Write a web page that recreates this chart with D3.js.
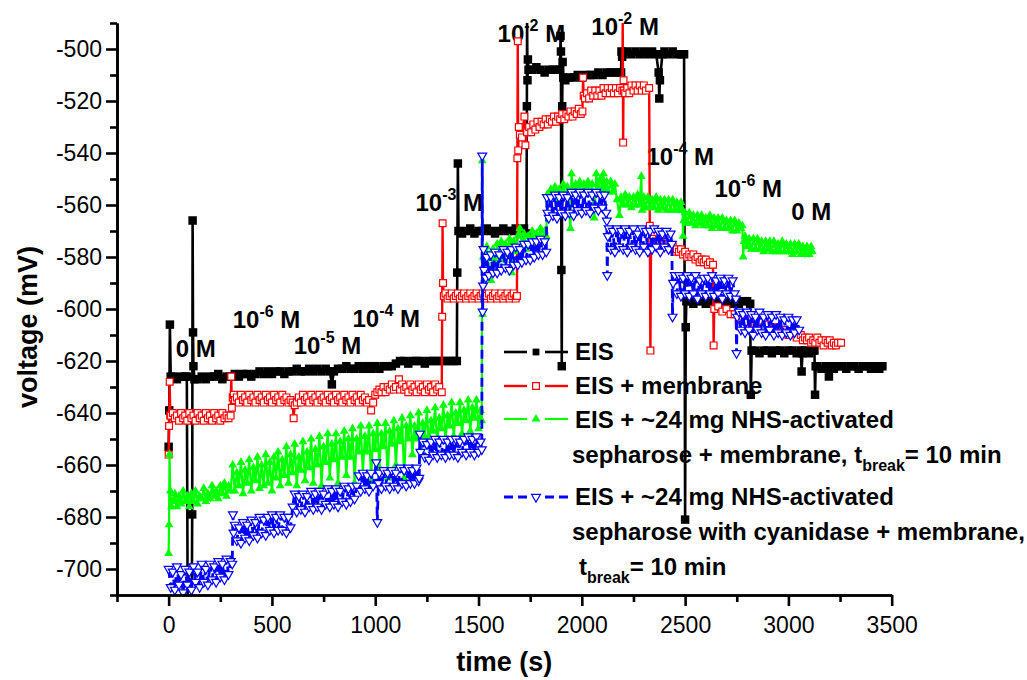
<!DOCTYPE html>
<html>
<head>
<meta charset="utf-8">
<script src="https://cdn.jsdelivr.net/npm/d3@7"></script>
<style>
body { margin: 0; background: #fff; }
text { white-space: pre; }
</style>
</head>
<body>
<div class="chart"></div>
<script>
// EIS (black, filled squares)
var eisData = [[0,-653],[3,-639],[6,-606],[10,-626],[20,-626],[40,-627],[60,-626],[80,-626],[88,-626],[92,-714],[112,-714],[114,-679],[116,-566],[118,-609],[120,-622],[125,-627],[140,-627],[160,-626],[180,-627],[200,-626],[220,-626],[240,-625],[260,-627],[280,-626],[300,-626],[320,-625],[340,-626],[360,-625],[380,-625],[400,-626],[420,-625],[440,-624],[460,-625],[480,-624],[500,-625],[520,-624],[540,-624],[560,-625],[580,-624],[600,-624],[620,-623],[640,-624],[660,-624],[680,-623],[700,-624],[720,-623],[740,-624],[760,-623],[780,-624],[790,-629],[800,-624],[820,-623],[840,-623],[860,-622],[880,-623],[900,-623],[920,-622],[940,-623],[960,-622],[980,-623],[1000,-622],[1020,-623],[1040,-622],[1060,-622],[1080,-622],[1100,-621],[1120,-620],[1140,-620],[1160,-621],[1180,-620],[1200,-620],[1220,-620],[1240,-621],[1260,-620],[1280,-620],[1300,-620],[1320,-620],[1340,-620],[1360,-620],[1380,-620],[1395,-620],[1397,-586],[1400,-544],[1403,-570],[1420,-571],[1440,-570],[1460,-569],[1480,-571],[1500,-570],[1520,-570],[1540,-569],[1560,-570],[1580,-571],[1600,-570],[1620,-569],[1640,-570],[1660,-570],[1680,-569],[1700,-570],[1720,-569],[1732,-571],[1734,-522],[1735,-488],[1737,-512],[1739,-504],[1742,-508],[1760,-508],[1780,-507],[1800,-508],[1820,-509],[1840,-508],[1860,-508],[1880,-508],[1895,-508],[1897,-495],[1899,-501],[1901,-585],[1903,-622],[1905,-522],[1907,-505],[1910,-511],[1920,-512],[1940,-511],[1960,-511],[1980,-510],[2000,-511],[2020,-510],[2040,-510],[2060,-510],[2080,-509],[2100,-510],[2120,-509],[2140,-509],[2160,-509],[2180,-509],[2190,-509],[2192,-501],[2195,-503],[2200,-502],[2220,-501],[2240,-502],[2260,-501],[2280,-502],[2300,-501],[2320,-502],[2340,-501],[2360,-502],[2372,-509],[2375,-519],[2378,-512],[2390,-502],[2400,-501],[2420,-502],[2440,-501],[2460,-502],[2480,-502],[2495,-502],[2500,-681],[2503,-607],[2506,-597],[2520,-597],[2540,-598],[2560,-597],[2580,-597],[2600,-598],[2620,-597],[2640,-597],[2660,-598],[2680,-597],[2700,-597],[2720,-598],[2740,-597],[2760,-598],[2780,-597],[2800,-597],[2815,-598],[2818,-633],[2822,-616],[2840,-616],[2860,-617],[2880,-616],[2900,-616],[2920,-617],[2940,-616],[2960,-616],[2980,-617],[3000,-616],[3020,-616],[3040,-617],[3060,-616],[3064,-624],[3068,-617],[3080,-616],[3100,-617],[3120,-616],[3126,-616],[3129,-633],[3132,-622],[3140,-622],[3160,-623],[3180,-622],[3193,-623],[3196,-626],[3200,-622],[3220,-623],[3240,-622],[3260,-622],[3280,-623],[3300,-622],[3320,-622],[3340,-623],[3360,-622],[3380,-622],[3400,-623],[3420,-622],[3440,-623],[3455,-622]];

// EIS + membrane (red, open squares)
var membraneData = [[0,-656],[2,-645],[5,-628],[8,-641],[10,-641],[20,-640],[30,-642],[40,-641],[50,-643],[60,-640],[70,-642],[80,-641],[90,-643],[100,-640],[110,-642],[120,-641],[130,-643],[140,-640],[150,-642],[160,-641],[170,-643],[180,-640],[190,-642],[200,-641],[210,-643],[220,-640],[230,-642],[240,-641],[250,-643],[260,-640],[270,-642],[280,-641],[290,-642],[300,-641],[303,-626],[306,-638],[310,-634],[315,-633],[320,-635],[330,-634],[340,-636],[350,-633],[360,-635],[370,-634],[380,-636],[390,-633],[400,-635],[410,-634],[420,-636],[430,-633],[440,-635],[450,-634],[460,-636],[470,-633],[480,-635],[490,-634],[500,-636],[510,-633],[520,-635],[530,-634],[540,-636],[550,-633],[560,-635],[570,-634],[580,-636],[590,-635],[600,-636],[605,-642],[610,-637],[620,-636],[630,-634],[640,-636],[650,-633],[660,-635],[670,-634],[680,-636],[690,-633],[700,-635],[710,-634],[720,-636],[730,-633],[740,-635],[750,-634],[760,-636],[770,-633],[780,-635],[790,-634],[800,-636],[810,-633],[820,-635],[830,-634],[840,-636],[850,-633],[860,-635],[870,-634],[880,-636],[890,-633],[900,-635],[910,-634],[920,-636],[930,-633],[940,-635],[950,-634],[960,-636],[970,-635],[980,-639],[990,-636],[1000,-633],[1010,-632],[1020,-631],[1030,-632],[1040,-630],[1050,-632],[1060,-630],[1070,-631],[1080,-629],[1090,-631],[1100,-630],[1115,-627],[1120,-631],[1130,-629],[1140,-631],[1150,-630],[1160,-632],[1170,-629],[1180,-631],[1190,-630],[1200,-632],[1210,-629],[1220,-631],[1230,-630],[1240,-632],[1250,-629],[1260,-631],[1270,-630],[1280,-632],[1290,-629],[1300,-631],[1310,-630],[1322,-632],[1324,-603],[1326,-567],[1328,-590],[1332,-595],[1340,-594],[1350,-596],[1360,-595],[1370,-594],[1380,-596],[1390,-595],[1400,-594],[1410,-596],[1420,-595],[1430,-594],[1440,-596],[1450,-595],[1460,-594],[1470,-596],[1480,-595],[1490,-594],[1500,-596],[1510,-595],[1520,-594],[1530,-596],[1540,-595],[1550,-594],[1560,-596],[1570,-595],[1580,-594],[1590,-596],[1600,-595],[1610,-594],[1620,-596],[1630,-595],[1640,-594],[1650,-596],[1660,-595],[1670,-594],[1680,-596],[1686,-595],[1688,-542],[1690,-497],[1692,-539],[1695,-530],[1700,-533],[1710,-534],[1722,-526],[1727,-537],[1735,-532],[1745,-530],[1755,-532],[1765,-529],[1775,-531],[1785,-528],[1795,-530],[1805,-528],[1815,-529],[1825,-527],[1835,-529],[1845,-527],[1855,-528],[1865,-526],[1875,-528],[1885,-526],[1895,-527],[1905,-525],[1915,-527],[1925,-525],[1935,-526],[1945,-524],[1955,-526],[1965,-524],[1975,-525],[1985,-523],[1995,-525],[2003,-524],[2006,-511],[2009,-518],[2015,-519],[2025,-517],[2035,-519],[2045,-516],[2055,-518],[2065,-516],[2075,-518],[2085,-516],[2095,-518],[2105,-515],[2115,-517],[2125,-515],[2135,-517],[2145,-515],[2155,-517],[2165,-515],[2175,-517],[2185,-515],[2196,-516],[2198,-488],[2200,-536],[2202,-512],[2204,-516],[2210,-517],[2220,-515],[2230,-517],[2240,-514],[2250,-516],[2260,-514],[2270,-516],[2280,-514],[2290,-516],[2300,-514],[2310,-516],[2326,-515],[2329,-568],[2332,-616],[2335,-575],[2340,-573],[2350,-575],[2360,-574],[2370,-576],[2380,-574],[2390,-576],[2400,-575],[2410,-576],[2420,-575],[2430,-577],[2440,-576],[2450,-578],[2460,-577],[2470,-578],[2480,-577],[2490,-579],[2500,-578],[2510,-580],[2520,-579],[2530,-580],[2540,-579],[2550,-581],[2560,-580],[2570,-582],[2580,-581],[2590,-582],[2600,-581],[2610,-583],[2620,-582],[2635,-583],[2638,-614],[2641,-600],[2660,-599],[2680,-601],[2700,-600],[2720,-602],[2740,-602],[2760,-604],[2780,-603],[2800,-605],[2820,-604],[2840,-606],[2860,-605],[2880,-607],[2900,-606],[2920,-608],[2940,-607],[2960,-609],[2980,-608],[3000,-610],[3020,-609],[3040,-611],[3060,-610],[3070,-612],[3080,-611],[3090,-612],[3100,-611],[3110,-613],[3120,-612],[3130,-613],[3140,-611],[3150,-613],[3160,-612],[3170,-614],[3180,-612],[3190,-613],[3200,-612],[3210,-614],[3220,-613],[3230,-614],[3240,-613],[3255,-613]];

// EIS + NHS-activated sepharose + membrane (green, filled up-triangles)
var nhsData = [[0,-694],[2,-683],[4,-656],[8,-670],[14,-676],[20,-674],[30,-671],[40,-676],[50,-672],[60,-675],[70,-670],[80,-674],[90,-672],[100,-676],[110,-671],[120,-674],[130,-670],[140,-675],[150,-672],[160,-673],[170,-669],[180,-674],[190,-671],[200,-673],[210,-668],[220,-672],[230,-670],[240,-673],[250,-668],[260,-671],[270,-667],[280,-672],[290,-668],[300,-670],[310,-660],[320,-670],[330,-663],[340,-668],[350,-659],[360,-671],[370,-662],[380,-667],[390,-658],[400,-670],[410,-661],[420,-666],[430,-657],[440,-669],[450,-660],[460,-668],[470,-656],[480,-667],[490,-659],[500,-670],[510,-657],[520,-665],[530,-655],[540,-668],[550,-658],[560,-664],[570,-653],[580,-667],[590,-656],[600,-663],[610,-652],[620,-668],[630,-657],[640,-662],[650,-651],[660,-666],[670,-655],[680,-661],[690,-650],[700,-667],[710,-654],[720,-660],[730,-649],[740,-668],[750,-653],[760,-659],[770,-648],[780,-665],[790,-652],[800,-658],[810,-648],[820,-667],[830,-651],[840,-657],[850,-647],[860,-664],[870,-650],[880,-657],[890,-646],[900,-667],[910,-650],[920,-655],[930,-645],[940,-663],[950,-649],[960,-655],[970,-645],[980,-666],[990,-648],[1000,-654],[1010,-644],[1020,-661],[1030,-648],[1040,-653],[1050,-644],[1060,-665],[1070,-647],[1080,-652],[1090,-643],[1100,-660],[1110,-646],[1120,-651],[1130,-642],[1140,-665],[1150,-645],[1160,-650],[1170,-641],[1180,-656],[1190,-645],[1200,-650],[1210,-640],[1220,-654],[1230,-644],[1240,-649],[1250,-639],[1260,-653],[1270,-643],[1280,-647],[1290,-638],[1300,-652],[1310,-642],[1320,-646],[1330,-637],[1340,-651],[1350,-641],[1360,-645],[1370,-636],[1380,-649],[1390,-640],[1400,-644],[1410,-636],[1420,-648],[1430,-639],[1440,-643],[1450,-635],[1460,-647],[1470,-638],[1480,-642],[1490,-635],[1500,-646],[1510,-639],[1516,-643],[1518,-543],[1520,-602],[1523,-580],[1530,-581],[1540,-576],[1550,-584],[1560,-589],[1570,-577],[1580,-582],[1590,-575],[1600,-580],[1610,-574],[1620,-581],[1630,-575],[1640,-579],[1650,-573],[1660,-586],[1670,-574],[1680,-578],[1690,-572],[1700,-569],[1710,-576],[1720,-571],[1730,-577],[1740,-572],[1750,-576],[1760,-570],[1770,-575],[1780,-571],[1790,-574],[1800,-569],[1810,-574],[1820,-570],[1828,-572],[1832,-556],[1840,-558],[1850,-554],[1860,-557],[1870,-553],[1880,-558],[1890,-554],[1900,-556],[1910,-552],[1920,-557],[1930,-553],[1945,-569],[1950,-548],[1960,-556],[1970,-552],[1980,-555],[1990,-551],[2000,-556],[2010,-552],[2020,-555],[2030,-551],[2040,-556],[2050,-552],[2060,-565],[2070,-548],[2080,-554],[2090,-550],[2100,-553],[2105,-548],[2110,-554],[2120,-551],[2130,-555],[2140,-551],[2150,-555],[2160,-552],[2170,-558],[2182,-564],[2190,-557],[2200,-560],[2210,-556],[2220,-560],[2230,-557],[2240,-561],[2250,-557],[2260,-560],[2270,-556],[2280,-560],[2288,-549],[2292,-562],[2300,-557],[2310,-561],[2320,-557],[2330,-561],[2340,-558],[2350,-561],[2360,-557],[2370,-562],[2380,-558],[2390,-561],[2400,-558],[2410,-562],[2420,-558],[2430,-562],[2440,-558],[2450,-562],[2460,-559],[2470,-562],[2480,-559],[2488,-562],[2490,-572],[2493,-566],[2500,-563],[2510,-567],[2520,-563],[2530,-567],[2540,-564],[2550,-568],[2560,-564],[2570,-567],[2580,-564],[2590,-568],[2600,-565],[2610,-568],[2620,-564],[2630,-569],[2640,-565],[2650,-568],[2660,-565],[2670,-569],[2680,-565],[2690,-569],[2700,-566],[2710,-569],[2720,-566],[2730,-570],[2740,-566],[2750,-570],[2760,-567],[2770,-569],[2777,-568],[2781,-580],[2785,-574],[2790,-572],[2800,-576],[2810,-573],[2820,-577],[2830,-573],[2840,-577],[2850,-573],[2860,-577],[2870,-574],[2880,-578],[2890,-574],[2900,-577],[2910,-574],[2920,-578],[2930,-574],[2940,-578],[2950,-575],[2960,-578],[2970,-574],[2980,-578],[2990,-575],[3000,-578],[3010,-575],[3020,-579],[3030,-575],[3040,-578],[3050,-575],[3060,-579],[3070,-576],[3080,-579],[3090,-576],[3100,-579],[3110,-576],[3116,-578]];

// EIS + NHS-activated sepharose with cyanidase + membrane (blue, open down-triangles)
var cyanidaseData = [[0,-700],[10,-707],[20,-701],[30,-708],[40,-699],[50,-706],[60,-702],[70,-709],[80,-700],[90,-706],[100,-701],[110,-708],[120,-699],[130,-705],[140,-701],[150,-707],[160,-698],[170,-705],[180,-700],[190,-706],[200,-698],[210,-704],[220,-699],[230,-705],[240,-697],[250,-703],[260,-698],[270,-704],[280,-696],[290,-702],[300,-697],[308,-698],[311,-679],[314,-686],[320,-683],[330,-689],[340,-684],[350,-690],[360,-682],[370,-688],[380,-683],[390,-689],[400,-681],[410,-687],[420,-682],[430,-688],[440,-680],[450,-686],[460,-681],[470,-687],[480,-680],[490,-685],[500,-679],[510,-686],[520,-680],[530,-685],[540,-679],[550,-685],[560,-680],[570,-686],[580,-680],[590,-684],[600,-676],[610,-671],[620,-678],[630,-672],[640,-677],[650,-671],[660,-678],[670,-672],[680,-676],[690,-670],[700,-677],[710,-671],[720,-676],[730,-670],[740,-677],[750,-671],[760,-675],[770,-669],[780,-676],[790,-670],[800,-675],[810,-669],[820,-676],[830,-670],[840,-674],[850,-668],[860,-675],[870,-669],[880,-674],[890,-668],[900,-673],[910,-668],[920,-664],[930,-670],[940,-663],[950,-669],[960,-664],[970,-670],[980,-663],[990,-668],[1005,-659],[1010,-682],[1015,-667],[1020,-663],[1030,-669],[1040,-662],[1050,-668],[1060,-663],[1070,-669],[1080,-662],[1090,-668],[1100,-663],[1110,-669],[1120,-661],[1130,-667],[1140,-662],[1150,-668],[1160,-661],[1170,-667],[1180,-662],[1190,-667],[1200,-661],[1210,-666],[1213,-665],[1216,-648],[1219,-655],[1230,-651],[1240,-657],[1250,-652],[1260,-658],[1270,-651],[1280,-656],[1290,-650],[1300,-657],[1310,-651],[1320,-656],[1330,-650],[1340,-657],[1350,-651],[1360,-656],[1370,-650],[1380,-656],[1390,-650],[1400,-657],[1410,-651],[1420,-655],[1430,-650],[1440,-656],[1450,-649],[1460,-655],[1470,-650],[1480,-656],[1490,-649],[1500,-655],[1510,-651],[1516,-654],[1518,-541],[1520,-601],[1522,-591],[1524,-577],[1527,-585],[1535,-588],[1540,-580],[1550,-587],[1560,-579],[1570,-586],[1580,-578],[1590,-586],[1600,-579],[1610,-585],[1620,-577],[1630,-584],[1640,-578],[1650,-585],[1660,-577],[1670,-583],[1680,-576],[1690,-583],[1700,-577],[1710,-582],[1720,-575],[1730,-581],[1740,-575],[1750,-581],[1760,-574],[1770,-580],[1780,-574],[1790,-579],[1800,-573],[1810,-579],[1820,-574],[1828,-578],[1831,-557],[1834,-563],[1840,-565],[1850,-557],[1860,-564],[1870,-556],[1880,-565],[1890,-557],[1900,-563],[1910,-556],[1920,-564],[1930,-557],[1940,-563],[1950,-555],[1960,-564],[1970,-556],[1980,-562],[1990,-555],[2000,-563],[2010,-556],[2020,-562],[2030,-555],[2040,-563],[2050,-556],[2060,-561],[2070,-555],[2080,-562],[2090,-556],[2100,-561],[2110,-556],[2118,-563],[2121,-566],[2123,-587],[2126,-572],[2130,-569],[2140,-577],[2150,-570],[2160,-578],[2170,-569],[2180,-576],[2190,-570],[2200,-577],[2210,-569],[2220,-578],[2230,-570],[2240,-576],[2250,-569],[2260,-577],[2270,-571],[2280,-578],[2290,-569],[2300,-576],[2310,-570],[2320,-578],[2330,-570],[2340,-577],[2350,-569],[2360,-576],[2370,-570],[2380,-578],[2390,-571],[2400,-576],[2410,-570],[2420,-577],[2430,-571],[2436,-575],[2439,-603],[2442,-590],[2450,-587],[2460,-594],[2470,-587],[2480,-595],[2490,-588],[2500,-594],[2510,-587],[2520,-595],[2530,-588],[2540,-594],[2550,-587],[2560,-596],[2570,-589],[2580,-594],[2590,-588],[2600,-595],[2610,-588],[2620,-594],[2630,-587],[2640,-595],[2650,-589],[2660,-594],[2670,-588],[2680,-596],[2690,-589],[2700,-594],[2710,-588],[2720,-595],[2730,-589],[2740,-594],[2746,-596],[2749,-617],[2752,-603],[2760,-601],[2770,-608],[2780,-602],[2790,-609],[2800,-601],[2810,-608],[2820,-602],[2830,-610],[2840,-603],[2850,-608],[2860,-601],[2870,-609],[2880,-603],[2890,-610],[2900,-602],[2910,-608],[2920,-603],[2930,-610],[2940,-602],[2950,-609],[2960,-603],[2970,-610],[2980,-604],[2990,-609],[3000,-603],[3010,-610],[3020,-604],[3030,-609],[3040,-604],[3052,-608]];

var xTicks = [0, 500, 1000, 1500, 2000, 2500, 3000, 3500];
var xMinorTicks = [-250, 250, 750, 1250, 1750, 2250, 2750, 3250];
var yTicks = [-500, -520, -540, -560, -580, -600, -620, -640, -660, -680, -700];
var yMinorTicks = [-490, -510, -530, -550, -570, -590, -610, -630, -650, -670, -690, -710];

// concentration labels: base text, exponent, anchor in data units (time, voltage)
var concBase = ["0", "10", "10", "10", "10", "10", "10", "10", "10", "0"];
var concExp = ["", "-6", "-5", "-4", "-3", "-2", "-2", "-4", "-6", ""];
var concTime = [34, 310, 605, 890, 1195, 1592, 2046, 2313, 2642, 3014];
var concVolt = [-618.4, -607.2, -617.3, -606.8, -562.2, -497.4, -494.7, -544.8, -556.8, -565.7];

var W = 1027, H = 680;
var plotLeft = 117, plotRight = 891.7, plotTop = 23, plotBottom = 595;

var x = d3.scaleLinear().domain([-250, 3500]).range([plotLeft, plotRight]);
var y = d3.scaleLinear().domain([-710, -490]).range([plotBottom, plotTop]);

var svg = d3.select(".chart").append("svg")
    .attr("width", W)
    .attr("height", H)
    .style("font-family", "'Liberation Sans', Arial, sans-serif");

svg.append("defs").append("clipPath").attr("id", "plotClip")
    .append("rect")
    .attr("x", plotLeft).attr("y", plotTop)
    .attr("width", plotRight - plotLeft).attr("height", plotBottom - plotTop);

// concentration labels (under the data, lines run over them)
var annoG = svg.append("g");
concBase.forEach(function (b, i) {
    var t = annoG.append("text")
        .attr("x", x(concTime[i]))
        .attr("y", y(concVolt[i]))
        .attr("font-size", 24)
        .attr("font-weight", "bold")
        .attr("fill", "black");
    t.append("tspan").text(b);
    if (concExp[i]) {
        t.append("tspan").attr("font-size", 16).attr("dy", -11).text(concExp[i]);
        t.append("tspan").attr("dy", 11).text(" M");
    } else {
        t.append("tspan").text(" M");
    }
});

// series styles
var series = [
    {data: eisData, color: "#000000", width: 2.6, dash: null, sym: d3.symbolSquare, size: 72, fill: "#000000", rot: 0},
    {data: membraneData, color: "#ff0000", width: 2.4, dash: null, sym: d3.symbolSquare, size: 46, fill: "#ffffff", rot: 0},
    {data: nhsData, color: "#00ff00", width: 2.2, dash: null, sym: d3.symbolTriangle, size: 34, fill: "#00ff00", rot: 0},
    {data: cyanidaseData, color: "#0000ff", width: 2.8, dash: "9,5", sym: d3.symbolTriangle, size: 34, fill: "#ffffff", rot: 180}
];

// legend
var legendY = [352, 386, 419, 497];
var legendG = svg.append("g");
series.forEach(function (s, i) {
    var ly = legendY[i];
    legendG.append("line").attr("x1", 504).attr("x2", 527).attr("y1", ly).attr("y2", ly)
        .attr("stroke", s.color).attr("stroke-width", s.width).attr("stroke-dasharray", s.dash);
    legendG.append("line").attr("x1", 545).attr("x2", 568).attr("y1", ly).attr("y2", ly)
        .attr("stroke", s.color).attr("stroke-width", s.width).attr("stroke-dasharray", s.dash);
    legendG.append("path")
        .attr("d", d3.symbol().type(s.sym).size(i === 0 ? 46 : s.size))
        .attr("transform", "translate(536," + ly + ") rotate(" + s.rot + ")")
        .attr("fill", s.fill).attr("stroke", s.color).attr("stroke-width", s.fill === "#ffffff" ? 1.2 : 0);
});

var legendLines = [
    {x: 575, y: 360, parts: [["EIS", 0]]},
    {x: 575, y: 394, parts: [["EIS + membrane", 0]]},
    {x: 575, y: 428, parts: [["EIS + ~24 mg NHS-activated", 0]]},
    {x: 572, y: 463, parts: [["sepharose + membrane, t", 0], ["break", 1], ["= 10 min", 0]]},
    {x: 575, y: 505, parts: [["EIS + ~24 mg NHS-activated", 0]]},
    {x: 572, y: 540, parts: [["sepharose with cyanidase + membrane,", 0]]},
    {x: 579, y: 575, parts: [["t", 0], ["break", 1], ["= 10 min", 0]]}
];
legendLines.forEach(function (l) {
    var t = legendG.append("text").attr("x", l.x).attr("y", l.y)
        .attr("font-size", 24).attr("font-weight", "bold").attr("fill", "black");
    var shift = 0;
    l.parts.forEach(function (p) {
        var dy = p[1] ? 8 - shift : -shift;
        shift = p[1] ? 8 : 0;
        t.append("tspan").attr("dy", dy).attr("font-size", p[1] ? 16 : 24).text(p[0]);
    });
});

// data
var plot = svg.append("g").attr("clip-path", "url(#plotClip)");
var line = d3.line().x(function (d) { return x(d[0]); }).y(function (d) { return y(d[1]); });

series.forEach(function (s) {
    plot.append("path")
        .datum(s.data)
        .attr("d", line)
        .attr("fill", "none")
        .attr("stroke", s.color)
        .attr("stroke-width", s.width)
        .attr("stroke-dasharray", s.dash);
    plot.append("g").selectAll("path")
        .data(s.data)
        .enter().append("path")
        .attr("d", d3.symbol().type(s.sym).size(s.size))
        .attr("transform", function (d) { return "translate(" + x(d[0]) + "," + y(d[1]) + ") rotate(" + s.rot + ")"; })
        .attr("fill", s.fill)
        .attr("stroke", s.color)
        .attr("stroke-width", s.fill === "#ffffff" ? 1.2 : 0);
});

// axes
function styleAxis(g) {
    g.select(".domain").attr("stroke", "black").attr("stroke-width", 2.6);
    g.selectAll(".tick line").attr("stroke", "black").attr("stroke-width", 2.6);
    g.selectAll(".tick text").attr("fill", "black").attr("font-size", 23)
        .attr("font-family", "'Liberation Sans', Arial, sans-serif");
}

svg.append("g").attr("transform", "translate(0," + plotBottom + ")")
    .call(d3.axisBottom(x).tickValues(xMinorTicks).tickSize(7).tickSizeOuter(0).tickFormat(""))
    .call(styleAxis);
svg.append("g").attr("transform", "translate(0," + plotBottom + ")")
    .call(d3.axisBottom(x).tickValues(xTicks).tickSize(11).tickSizeOuter(0).tickPadding(11)
        .tickFormat(function (d) { return String(d); }))
    .call(styleAxis);

svg.append("g").attr("transform", "translate(" + plotLeft + ",0)")
    .call(d3.axisLeft(y).tickValues(yMinorTicks).tickSize(7).tickSizeOuter(0).tickFormat(""))
    .call(styleAxis);
svg.append("g").attr("transform", "translate(" + plotLeft + ",0)")
    .call(d3.axisLeft(y).tickValues(yTicks).tickSize(11).tickSizeOuter(0).tickPadding(4)
        .tickFormat(function (d) { return String(d); }))
    .call(styleAxis);

svg.append("text")
    .attr("x", (plotLeft + plotRight) / 2)
    .attr("y", 671)
    .attr("text-anchor", "middle")
    .attr("font-size", 27)
    .attr("font-weight", "bold")
    .text("time (s)");

svg.append("text")
    .attr("transform", "translate(37,327) rotate(-90)")
    .attr("text-anchor", "middle")
    .attr("font-size", 27)
    .attr("font-weight", "bold")
    .text("voltage (mV)");
</script>
</body>
</html>
